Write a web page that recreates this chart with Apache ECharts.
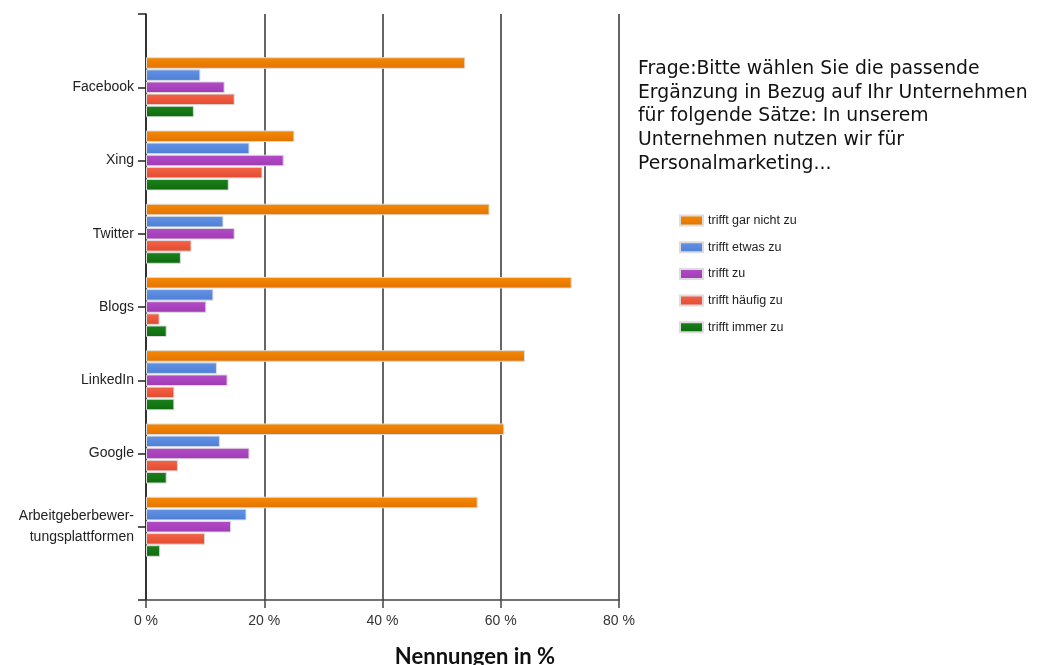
<!DOCTYPE html>
<html>
<head>
<meta charset="utf-8">
<script src="https://cdn.jsdelivr.net/npm/echarts@6/dist/echarts.min.js"></script>
<style>
  html, body { margin: 0; padding: 0; background: #fff; }
  #chart { width: 1052px; height: 665px; }
</style>
</head>
<body>
<div id="chart"></div>
<script>
// Platforms, top to bottom
const categories = ['Facebook', 'Xing', 'Twitter', 'Blogs', 'LinkedIn', 'Google', 'Arbeitgeberbewer-\ntungsplattformen'];

// Answer shares in percent per platform
const garNicht = [54.0, 25.1, 58.1, 72.0, 64.1, 60.6, 56.1];
const etwas    = [9.2, 17.5, 13.1, 11.4, 12.0, 12.5, 17.0];
const trifftZu = [13.3, 23.3, 15.0, 10.2, 13.8, 17.5, 14.4];
const haeufig  = [15.0, 19.7, 7.7, 2.3, 4.8, 5.4, 10.0];
const immer    = [8.1, 14.0, 5.9, 3.5, 4.8, 3.5, 2.4];

const seriesNames = ['trifft gar nicht zu', 'trifft etwas zu', 'trifft zu', 'trifft häufig zu', 'trifft immer zu'];
const xTicks = [0, 20, 40, 60, 80];

const palette = [
  ['#F58A05', '#E37200'],
  ['#6393E4', '#4C7ED6'],
  ['#B34CC6', '#A03BB5'],
  ['#F4644A', '#E24A2E'],
  ['#1A821A', '#0E6A0E']
];

const labelFont = '"Liberation Sans", Arial, sans-serif';

function grad(c) {
  return new echarts.graphic.LinearGradient(0, 0, 0, 1, [
    { offset: 0, color: c[0] },
    { offset: 1, color: c[1] }
  ]);
}

// empty slots at both ends give the axis its end ticks
const axisCats = [''].concat(categories, ['']);
const seriesData = [garNicht, etwas, trifftZu, haeufig, immer];

const chart = echarts.init(document.getElementById('chart'), null, { renderer: 'canvas' });

chart.setOption({
  animation: false,
  backgroundColor: '#ffffff',
  title: {
    text: 'Frage:Bitte wählen Sie die passende\nErgänzung in Bezug auf Ihr Unternehmen\nfür folgende Sätze: In unserem\nUnternehmen nutzen wir für\nPersonalmarketing...',
    left: 638,
    top: 57,
    padding: 0,
    textStyle: {
      fontFamily: '"DejaVu Sans", Verdana, sans-serif',
      fontWeight: 'normal',
      fontSize: 18.8,
      lineHeight: 23.75,
      color: '#111'
    }
  },
  legend: {
    orient: 'vertical',
    left: 679,
    top: 213.5,
    padding: 0,
    itemWidth: 23,
    itemHeight: 10,
    itemGap: 12.7,
    icon: 'rect',
    selectedMode: false,
    textStyle: { fontFamily: labelFont, fontSize: 12.5, color: '#222', lineHeight: 14 },
    data: seriesNames
  },
  graphic: [{
    type: 'text',
    x: 475,
    y: 657,
    style: {
      text: 'Nennungen in %',
      textAlign: 'center',
      textVerticalAlign: 'middle',
      fontFamily: 'Lato, sans-serif',
      fontWeight: 'bold',
      fontSize: 22,
      fill: '#111'
    }
  }],
  grid: { left: 146, right: 433, top: 14, bottom: 65, containLabel: false, outerBoundsMode: 'none' },
  xAxis: {
    type: 'value',
    min: xTicks[0],
    max: xTicks[xTicks.length - 1],
    interval: 20,
    axisLine: { show: true, lineStyle: { color: '#444', width: 1.5 } },
    axisTick: { show: true, length: 8, lineStyle: { color: '#444', width: 1.5 } },
    axisLabel: { formatter: '{value} %', fontFamily: labelFont, fontSize: 14, color: '#333', margin: 14 },
    splitLine: { show: true, lineStyle: { color: '#333', width: 1.5 } }
  },
  yAxis: {
    type: 'category',
    inverse: true,
    boundaryGap: false,
    data: axisCats,
    axisLine: { show: true, lineStyle: { color: '#222', width: 1.5 } },
    axisTick: { show: true, length: 8, interval: 0, lineStyle: { color: '#222', width: 1.5 } },
    axisLabel: { interval: 0, fontFamily: labelFont, fontSize: 14, color: '#222', margin: 12, align: 'right', lineHeight: 21 }
  },
  series: seriesNames.map((name, i) => ({
    name: name,
    type: 'bar',
    data: [null].concat(seriesData[i], [null]),
    barCategoryGap: '18%',
    barGap: '5%',
    itemStyle: { color: grad(palette[i]), borderColor: '#dcdcdc', borderWidth: 1 }
  }))
});
</script>
</body>
</html>
